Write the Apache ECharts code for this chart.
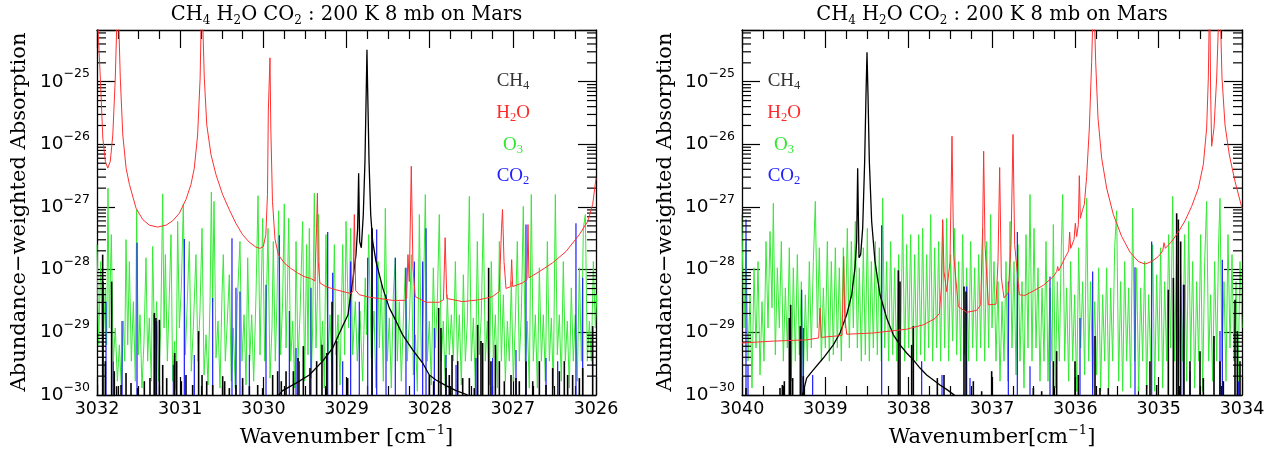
<!DOCTYPE html>
<html><head><meta charset="utf-8">
<script src="https://cdn.jsdelivr.net/npm/echarts@6/dist/echarts.min.js"></script>
<style>html,body{margin:0;padding:0;background:#fff}#c{width:1274px;height:455px}</style>
</head><body><div id="c"></div>
<script>
// ---------------- DATA (wavenumber [cm^-1], log10 of abundance-weighted absorption) ----------------
const leftRange = [3026, 3032];
const rightRange = [3034, 3040];
const yLogRange = [-30, -24.175];          // log10 of 1e-30 .. 6.7e-25
const yTickExponents = [-30, -29, -28, -27, -26, -25];

const h2oLeft = [[3032.00,-23.8],[3031.96,-24.94],[3031.93,-25.90],[3031.90,-26.27],[3031.87,-26.38],[3031.84,-26.27],[3031.81,-25.85],[3031.78,-24.94],[3031.75,-23.5],[3031.72,-24.94],[3031.69,-25.85],[3031.65,-26.38],[3031.61,-26.64],[3031.53,-27.02],[3031.45,-27.20],[3031.37,-27.29],[3031.27,-27.32],[3031.17,-27.29],[3031.09,-27.22],[3031.01,-27.10],[3030.93,-26.88],[3030.87,-26.64],[3030.83,-26.38],[3030.79,-25.85],[3030.76,-24.94],[3030.74,-23.5],[3030.71,-24.94],[3030.68,-25.69],[3030.63,-26.16],[3030.57,-26.48],[3030.49,-26.80],[3030.41,-27.04],[3030.33,-27.26],[3030.25,-27.44],[3030.17,-27.56],[3030.09,-27.64],[3030.04,-27.66],[3030.00,-27.63],[3029.97,-27.44],[3029.95,-26.80],[3029.94,-25.47],[3029.92,-24.62],[3029.91,-25.74],[3029.89,-26.91],[3029.86,-27.51],[3029.82,-27.76],[3029.75,-27.89],[3029.67,-27.98],[3029.59,-28.05],[3029.51,-28.11],[3029.43,-28.14],[3029.38,-28.18],[3029.36,-27.34],[3029.35,-26.78],[3029.34,-27.87],[3029.32,-28.21],[3029.25,-28.27],[3029.13,-28.32],[3029.01,-28.36],[3028.946,-28.38],[3028.922,-28.34],[3028.906,-27.12],[3028.89,-28.33],[3028.846,-28.40],[3028.725,-28.44],[3028.605,-28.46],[3028.445,-28.49],[3028.293,-28.49],[3028.277,-28.45],[3028.261,-27.76],[3028.245,-28.19],[3028.221,-26.35],[3028.201,-27.97],[3028.173,-28.43],[3028.046,-28.52],[3027.886,-28.52],[3027.834,-28.48],[3027.814,-27.49],[3027.794,-28.46],[3027.605,-28.51],[3027.405,-28.48],[3027.244,-28.43],[3027.164,-28.35],[3027.136,-27.34],[3027.124,-27.04],[3027.106,-27.87],[3027.082,-28.30],[3027.026,-28.27],[3027.014,-27.84],[3027.002,-28.27],[3026.882,-28.21],[3026.830,-28.16],[3026.818,-27.28],[3026.806,-28.13],[3026.681,-28.03],[3026.521,-27.89],[3026.361,-27.71],[3026.200,-27.44],[3026.100,-27.23],[3026.040,-26.96],[3026.000,-26.54]];

const ch4WingLeft = [[3029.848,-30.05],[3029.768,-29.93],[3029.607,-29.81],[3029.447,-29.68],[3029.287,-29.46],[3029.166,-29.25],[3029.046,-28.90],[3028.982,-28.72],[3028.966,-28.56],[3028.926,-28.19],[3028.886,-27.76],[3028.866,-27.34],[3028.854,-26.46],[3028.842,-27.55],[3028.822,-27.65],[3028.798,-27.12],[3028.778,-26.27],[3028.762,-25.10],[3028.754,-24.49],[3028.746,-25.10],[3028.729,-26.27],[3028.709,-27.12],[3028.685,-27.55],[3028.645,-27.87],[3028.565,-28.29],[3028.485,-28.61],[3028.405,-28.82],[3028.325,-29.04],[3028.204,-29.28],[3028.084,-29.49],[3028.004,-29.68],[3027.924,-29.76],[3027.804,-29.85],[3027.683,-29.93],[3027.563,-29.99],[3027.483,-30.05]];

const ch4LinesLeft = [[3031.996,-29.84],[3031.932,-27.76],[3031.900,-29.46],[3031.824,-28.19],[3031.792,-29.62],[3031.764,-29.86],[3031.711,-29.84],[3031.651,-29.65],[3031.591,-29.81],[3031.511,-29.89],[3031.431,-29.78],[3031.363,-29.73],[3031.311,-28.69],[3031.291,-28.77],[3031.250,-28.80],[3031.210,-29.52],[3031.162,-29.73],[3031.066,-29.33],[3031.042,-29.46],[3030.986,-29.78],[3030.930,-29.68],[3030.850,-29.84],[3030.778,-28.98],[3030.737,-29.68],[3030.681,-29.78],[3030.609,-29.84],[3030.489,-29.70],[3030.465,-29.78],[3030.409,-29.89],[3030.329,-29.84],[3030.249,-29.73],[3030.168,-29.86],[3030.068,-29.84],[3030.008,-29.89],[3029.888,-29.68],[3029.828,-29.62],[3029.784,-29.78],[3029.727,-29.62],[3029.639,-29.62],[3029.583,-29.41],[3029.519,-29.22],[3029.439,-29.57],[3029.359,-29.46],[3029.295,-29.20],[3029.238,-29.33],[3029.174,-28.51],[3029.118,-29.14],[3028.986,-29.73],[3028.693,-27.34],[3028.004,-29.68],[3027.952,-29.78],[3027.892,-28.61],[3027.864,-28.93],[3027.804,-29.57],[3027.764,-29.68],[3027.731,-29.36],[3027.663,-29.46],[3027.603,-29.73],[3027.523,-29.73],[3027.463,-29.89],[3027.423,-28.88],[3027.383,-29.14],[3027.363,-29.17],[3027.291,-27.97],[3027.263,-29.46],[3027.210,-29.20],[3027.162,-29.46],[3027.102,-29.78],[3027.022,-29.68],[3026.962,-29.73],[3026.922,-29.78],[3026.842,-29.46],[3026.761,-29.78],[3026.681,-29.46],[3026.601,-29.84],[3026.521,-29.57],[3026.441,-29.62],[3026.381,-29.46],[3026.341,-29.68],[3026.281,-29.68],[3026.200,-29.73],[3026.160,-29.57],[3026.040,-28.90]];

const co2LinesLeft = [[3031.924,-28.19],[3031.892,-28.51],[3031.804,-29.46],[3031.699,-28.82],[3031.519,-27.57],[3031.311,-28.72],[3031.283,-28.82],[3031.082,-29.52],[3030.950,-27.51],[3030.830,-29.36],[3030.609,-28.45],[3030.377,-27.50],[3030.329,-28.29],[3030.281,-28.35],[3030.168,-29.36],[3029.968,-28.24],[3029.808,-27.45],[3029.687,-28.66],[3029.607,-29.25],[3029.567,-29.46],[3029.427,-28.29],[3029.226,-27.40],[3029.166,-28.05],[3029.046,-29.46],[3028.950,-27.87],[3028.846,-28.51],[3028.745,-27.81],[3028.693,-27.39],[3028.637,-27.36],[3028.525,-28.40],[3028.413,-27.81],[3028.285,-27.97],[3028.184,-27.87],[3028.084,-27.87],[3028.044,-27.34],[3027.944,-28.93],[3027.804,-29.36],[3027.683,-29.52],[3027.443,-29.41],[3027.243,-29.41],[3026.962,-29.28],[3026.842,-27.28],[3026.601,-29.41],[3026.461,-29.46],[3026.241,-27.26],[3026.160,-28.13]];

const o3Left = [[3032.00,-27.60],[3031.980,-29.20],[3031.956,-27.87],[3031.932,-29.46],[3031.900,-28.29],[3031.884,-29.20],[3031.868,-26.70],[3031.852,-28.93],[3031.828,-27.44],[3031.804,-29.46],[3031.780,-28.93],[3031.755,-29.78],[3031.731,-29.20],[3031.707,-29.89],[3031.683,-28.82],[3031.667,-29.46],[3031.651,-27.52],[3031.631,-29.20],[3031.611,-27.87],[3031.587,-29.46],[3031.563,-28.51],[3031.539,-29.78],[3031.523,-27.04],[3031.503,-29.36],[3031.483,-28.72],[3031.459,-29.89],[3031.435,-29.14],[3031.411,-27.81],[3031.391,-29.46],[3031.371,-28.77],[3031.347,-29.78],[3031.331,-27.63],[3031.307,-29.25],[3031.283,-28.51],[3031.259,-29.78],[3031.234,-28.93],[3031.210,-26.79],[3031.194,-28.93],[3031.178,-27.76],[3031.154,-29.46],[3031.130,-28.40],[3031.110,-27.44],[3031.090,-29.78],[3031.066,-29.14],[3031.050,-29.91],[3031.030,-27.23],[3031.010,-28.93],[3030.986,-28.29],[3030.962,-26.95],[3030.938,-29.36],[3030.914,-28.51],[3030.890,-27.55],[3030.866,-29.62],[3030.842,-28.93],[3030.810,-27.76],[3030.786,-29.46],[3030.762,-28.66],[3030.737,-27.34],[3030.713,-29.68],[3030.689,-29.04],[3030.665,-29.84],[3030.641,-28.51],[3030.625,-26.76],[3030.609,-28.51],[3030.593,-26.91],[3030.569,-29.41],[3030.545,-28.82],[3030.521,-29.89],[3030.497,-28.40],[3030.481,-27.76],[3030.457,-29.46],[3030.433,-28.82],[3030.409,-28.08],[3030.385,-29.78],[3030.361,-28.93],[3030.337,-29.89],[3030.313,-28.51],[3030.281,-27.55],[3030.257,-29.46],[3030.232,-28.72],[3030.208,-29.84],[3030.188,-27.81],[3030.164,-29.46],[3030.140,-28.72],[3030.116,-29.78],[3030.088,-28.40],[3030.064,-26.82],[3030.040,-29.36],[3030.008,-27.18],[3029.984,-29.46],[3029.960,-28.29],[3029.944,-27.34],[3029.920,-29.73],[3029.896,-28.93],[3029.880,-27.55],[3029.856,-29.46],[3029.836,-28.51],[3029.816,-27.06],[3029.792,-29.36],[3029.768,-28.51],[3029.748,-26.95],[3029.727,-29.25],[3029.711,-28.40],[3029.695,-27.18],[3029.671,-29.46],[3029.647,-28.82],[3029.623,-29.89],[3029.607,-27.55],[3029.583,-29.46],[3029.559,-28.72],[3029.527,-27.23],[3029.503,-29.78],[3029.479,-27.60],[3029.463,-29.36],[3029.447,-27.34],[3029.423,-29.73],[3029.407,-28.93],[3029.387,-26.78],[3029.367,-29.25],[3029.351,-28.51],[3029.335,-27.12],[3029.311,-29.46],[3029.287,-28.82],[3029.267,-29.89],[3029.247,-27.44],[3029.222,-29.36],[3029.198,-28.72],[3029.174,-29.78],[3029.146,-27.60],[3029.126,-29.36],[3029.102,-28.72],[3029.078,-29.84],[3029.046,-27.60],[3029.022,-29.36],[3029.006,-27.23],[3028.974,-28.93],[3028.950,-27.34],[3028.926,-29.36],[3028.894,-28.51],[3028.870,-29.46],[3028.838,-28.66],[3028.806,-29.78],[3028.774,-28.13],[3028.758,-29.04],[3028.733,-27.44],[3028.701,-29.41],[3028.669,-28.66],[3028.645,-29.89],[3028.621,-27.87],[3028.605,-29.25],[3028.581,-28.19],[3028.557,-29.78],[3028.533,-27.02],[3028.509,-29.46],[3028.485,-28.77],[3028.461,-29.89],[3028.437,-28.40],[3028.413,-27.81],[3028.389,-29.46],[3028.365,-28.51],[3028.341,-29.78],[3028.317,-28.82],[3028.293,-27.97],[3028.269,-29.46],[3028.245,-28.82],[3028.220,-27.76],[3028.196,-29.68],[3028.172,-29.04],[3028.148,-29.94],[3028.124,-27.12],[3028.100,-29.46],[3028.076,-28.51],[3028.052,-26.80],[3028.028,-29.46],[3028.004,-28.82],[3027.980,-29.84],[3027.956,-27.97],[3027.932,-29.25],[3027.908,-28.51],[3027.884,-27.12],[3027.860,-29.46],[3027.836,-28.82],[3027.812,-29.89],[3027.788,-28.40],[3027.764,-29.36],[3027.739,-28.72],[3027.715,-29.46],[3027.691,-27.87],[3027.667,-29.46],[3027.643,-28.72],[3027.619,-29.84],[3027.595,-28.08],[3027.571,-29.46],[3027.547,-28.82],[3027.523,-26.83],[3027.499,-29.46],[3027.475,-28.77],[3027.451,-29.89],[3027.427,-27.55],[3027.403,-29.36],[3027.379,-28.72],[3027.355,-27.10],[3027.331,-29.46],[3027.307,-28.82],[3027.283,-29.84],[3027.259,-27.87],[3027.235,-29.41],[3027.210,-28.72],[3027.186,-29.89],[3027.162,-27.55],[3027.138,-29.46],[3027.114,-28.40],[3027.090,-29.78],[3027.066,-28.82],[3027.042,-29.46],[3027.018,-28.19],[3026.994,-29.78],[3026.970,-28.82],[3026.946,-27.55],[3026.922,-29.46],[3026.898,-28.72],[3026.874,-26.99],[3026.850,-29.46],[3026.826,-28.82],[3026.802,-29.89],[3026.778,-26.80],[3026.754,-29.46],[3026.729,-28.72],[3026.705,-29.89],[3026.681,-27.97],[3026.657,-29.46],[3026.633,-28.72],[3026.609,-29.78],[3026.585,-27.55],[3026.561,-29.46],[3026.537,-28.77],[3026.513,-29.89],[3026.489,-26.80],[3026.465,-29.36],[3026.441,-28.72],[3026.417,-29.78],[3026.393,-27.87],[3026.369,-29.46],[3026.345,-28.82],[3026.321,-29.89],[3026.297,-28.29],[3026.273,-29.46],[3026.249,-28.72],[3026.225,-29.78],[3026.200,-27.97],[3026.176,-29.46],[3026.152,-27.34],[3026.128,-27.12],[3026.104,-29.46],[3026.080,-28.82],[3026.056,-29.46],[3026.032,-27.87],[3026.008,-28.93],[3025.992,-28.40]];

const h2oRight = [[3040.0,-29.17],[3039.624,-29.14],[3039.224,-29.12],[3039.08,-29.09],[3039.064,-28.61],[3039.048,-29.08],[3038.80,-29.05],[3038.788,-28.40],[3038.78,-27.79],[3038.768,-28.72],[3038.744,-29.03],[3038.424,-29.01],[3038.024,-28.95],[3037.824,-28.88],[3037.684,-28.78],[3037.632,-28.70],[3037.608,-28.29],[3037.592,-27.20],[3037.576,-28.03],[3037.544,-28.35],[3037.504,-27.87],[3037.48,-25.87],[3037.46,-27.76],[3037.404,-28.59],[3037.304,-28.68],[3037.184,-28.65],[3037.136,-28.56],[3037.112,-27.34],[3037.10,-26.11],[3037.084,-27.60],[3037.044,-28.56],[3037.024,-28.59],[3036.952,-28.55],[3036.928,-27.87],[3036.908,-26.37],[3036.888,-28.13],[3036.856,-28.45],[3036.804,-28.37],[3036.772,-27.60],[3036.748,-25.84],[3036.728,-27.60],[3036.672,-28.40],[3036.604,-28.41],[3036.504,-28.34],[3036.384,-28.25],[3036.264,-28.11],[3036.224,-28.03],[3036.212,-27.95],[3036.20,-28.02],[3036.124,-27.81],[3036.08,-27.70],[3036.068,-27.40],[3036.056,-27.66],[3036.016,-27.52],[3036.00,-27.26],[3035.984,-27.47],[3035.964,-27.28],[3035.952,-26.50],[3035.94,-27.18],[3035.912,-27.04],[3035.892,-26.96],[3035.864,-26.51],[3035.832,-25.74],[3035.804,-24.68],[3035.78,-23.5],[3035.756,-24.68],[3035.728,-25.58],[3035.684,-26.22],[3035.624,-26.70],[3035.544,-27.12],[3035.444,-27.47],[3035.344,-27.72],[3035.244,-27.87],[3035.164,-27.91],[3035.084,-27.87],[3035.004,-27.79],[3034.952,-27.70],[3034.936,-27.57],[3034.92,-27.66],[3034.844,-27.55],[3034.764,-27.40],[3034.684,-27.22],[3034.604,-26.99],[3034.524,-26.70],[3034.464,-26.32],[3034.424,-25.74],[3034.404,-24.94],[3034.388,-23.5],[3034.376,-25.21],[3034.364,-26.03],[3034.336,-25.74],[3034.304,-24.94],[3034.268,-23.5],[3034.24,-24.94],[3034.204,-25.69],[3034.152,-26.17],[3034.084,-26.59],[3034.0,-27.02]];

const ch4WingRight = [[3039.284,-30.05],[3039.224,-29.73],[3039.144,-29.60],[3039.024,-29.41],[3038.904,-29.20],[3038.824,-29.01],[3038.744,-28.72],[3038.684,-28.40],[3038.644,-27.97],[3038.624,-27.55],[3038.612,-26.38],[3038.596,-27.81],[3038.576,-27.76],[3038.552,-27.34],[3038.528,-26.27],[3038.512,-25.21],[3038.500,-24.53],[3038.488,-25.21],[3038.472,-26.27],[3038.444,-27.23],[3038.404,-27.87],[3038.344,-28.40],[3038.264,-28.77],[3038.184,-29.04],[3038.104,-29.20],[3038.024,-29.33],[3037.944,-29.44],[3037.864,-29.57],[3037.784,-29.68],[3037.704,-29.76],[3037.624,-29.84],[3037.544,-29.91],[3037.464,-29.99],[3037.404,-30.05]];

const ch4LinesRight = [[3039.952,-29.89],[3039.544,-29.89],[3039.516,-29.84],[3039.492,-29.78],[3039.432,-28.77],[3039.416,-28.56],[3039.392,-29.73],[3039.300,-28.90],[3039.264,-29.70],[3038.124,-28.01],[3038.104,-28.19],[3037.964,-29.20],[3037.944,-28.90],[3037.656,-29.73],[3037.576,-29.68],[3037.336,-28.27],[3037.312,-28.35],[3037.224,-29.78],[3037.124,-29.94],[3037.004,-29.62],[3036.504,-29.89],[3036.404,-29.94],[3036.264,-29.46],[3036.224,-29.30],[3036.004,-29.46],[3035.964,-29.68],[3035.764,-29.06],[3035.704,-29.89],[3035.604,-29.89],[3035.144,-29.84],[3035.104,-29.46],[3035.024,-29.84],[3034.884,-28.32],[3034.824,-28.13],[3034.784,-27.10],[3034.764,-27.20],[3034.736,-27.55],[3034.696,-28.24],[3034.624,-29.46],[3034.504,-29.30],[3034.464,-29.73],[3034.336,-29.06],[3034.264,-29.46],[3034.224,-29.78],[3034.084,-28.48],[3034.056,-28.98],[3034.024,-29.46]];

const co2LinesRight = [[3039.952,-27.20],[3039.928,-29.52],[3039.284,-28.32],[3039.264,-28.93],[3039.152,-29.68],[3038.324,-27.29],[3037.844,-29.46],[3037.600,-29.68],[3037.304,-28.27],[3037.264,-29.73],[3036.804,-28.19],[3036.696,-27.40],[3036.544,-29.54],[3036.304,-28.11],[3035.944,-28.77],[3035.792,-28.03],[3035.284,-27.96],[3035.084,-27.55],[3034.764,-27.90],[3034.704,-28.24],[3034.624,-29.62],[3034.264,-28.98],[3034.236,-27.84],[3034.040,-29.78]];

const o3Right = [[3040.004,-27.12],[3039.976,-28.93],[3039.952,-27.55],[3039.928,-29.46],[3039.904,-28.40],[3039.880,-29.89],[3039.856,-27.97],[3039.832,-29.25],[3039.808,-27.87],[3039.784,-29.68],[3039.760,-28.51],[3039.736,-29.46],[3039.712,-27.55],[3039.688,-28.93],[3039.664,-27.39],[3039.640,-28.61],[3039.624,-26.94],[3039.600,-29.36],[3039.576,-27.97],[3039.552,-28.93],[3039.528,-27.55],[3039.504,-29.46],[3039.480,-28.29],[3039.456,-29.25],[3039.432,-27.65],[3039.408,-29.78],[3039.384,-27.97],[3039.360,-29.46],[3039.336,-27.76],[3039.312,-29.36],[3039.288,-28.19],[3039.264,-29.78],[3039.240,-28.40],[3039.216,-29.46],[3039.192,-27.87],[3039.168,-29.25],[3039.144,-27.87],[3039.120,-26.91],[3039.096,-28.93],[3039.072,-27.65],[3039.048,-29.46],[3039.024,-28.29],[3039.000,-29.25],[3038.976,-27.55],[3038.952,-29.46],[3038.928,-27.87],[3038.904,-29.36],[3038.880,-27.65],[3038.856,-29.25],[3038.832,-27.97],[3038.808,-29.46],[3038.784,-27.65],[3038.760,-28.93],[3038.736,-27.34],[3038.712,-29.25],[3038.688,-27.55],[3038.664,-28.93],[3038.640,-27.23],[3038.616,-29.25],[3038.592,-27.97],[3038.568,-29.46],[3038.544,-27.65],[3038.520,-29.36],[3038.496,-27.34],[3038.472,-29.46],[3038.448,-27.87],[3038.424,-29.25],[3038.400,-27.55],[3038.376,-29.36],[3038.352,-27.65],[3038.328,-29.46],[3038.312,-26.86],[3038.288,-29.25],[3038.264,-27.87],[3038.240,-29.46],[3038.216,-27.55],[3038.192,-29.36],[3038.168,-27.97],[3038.144,-29.46],[3038.120,-27.76],[3038.096,-29.25],[3038.072,-27.12],[3038.048,-29.46],[3038.024,-27.60],[3038.000,-29.25],[3037.976,-27.44],[3037.952,-29.46],[3037.928,-27.76],[3037.904,-29.46],[3037.880,-27.44],[3037.856,-29.36],[3037.832,-27.34],[3037.808,-29.46],[3037.784,-27.76],[3037.760,-29.25],[3037.736,-27.12],[3037.712,-29.46],[3037.688,-27.65],[3037.664,-29.25],[3037.640,-27.55],[3037.616,-29.46],[3037.592,-27.23],[3037.568,-29.25],[3037.544,-27.18],[3037.520,-29.46],[3037.496,-27.76],[3037.472,-29.14],[3037.448,-27.34],[3037.424,-29.36],[3037.400,-27.87],[3037.376,-29.46],[3037.352,-27.44],[3037.328,-29.36],[3037.304,-27.97],[3037.280,-29.46],[3037.256,-27.55],[3037.232,-29.25],[3037.208,-27.97],[3037.184,-29.46],[3037.160,-27.76],[3037.136,-29.25],[3037.112,-27.34],[3037.088,-29.46],[3037.064,-27.55],[3037.040,-29.25],[3037.016,-27.12],[3037.000,-28.93],[3036.976,-27.87],[3036.952,-29.46],[3036.928,-28.19],[3036.904,-29.78],[3036.880,-28.51],[3036.856,-29.46],[3036.832,-27.87],[3036.808,-29.78],[3036.784,-27.23],[3036.760,-29.25],[3036.736,-27.87],[3036.712,-29.68],[3036.688,-27.60],[3036.664,-29.46],[3036.640,-28.19],[3036.616,-29.89],[3036.592,-27.44],[3036.568,-29.25],[3036.544,-26.80],[3036.520,-29.46],[3036.496,-27.34],[3036.472,-29.25],[3036.448,-27.97],[3036.424,-29.78],[3036.400,-28.29],[3036.376,-29.46],[3036.352,-27.55],[3036.328,-29.78],[3036.304,-28.29],[3036.280,-29.46],[3036.264,-27.28],[3036.240,-29.89],[3036.216,-28.19],[3036.192,-29.46],[3036.168,-27.65],[3036.152,-26.80],[3036.128,-29.46],[3036.104,-28.29],[3036.080,-29.78],[3036.056,-27.87],[3036.032,-29.46],[3036.008,-28.40],[3035.984,-29.94],[3035.960,-27.65],[3035.936,-29.25],[3035.912,-28.19],[3035.888,-29.68],[3035.864,-26.86],[3035.840,-29.46],[3035.816,-28.19],[3035.792,-29.89],[3035.768,-28.51],[3035.744,-29.68],[3035.720,-27.97],[3035.696,-29.94],[3035.672,-28.40],[3035.648,-29.46],[3035.624,-27.97],[3035.600,-29.89],[3035.576,-28.29],[3035.552,-29.46],[3035.528,-27.65],[3035.504,-27.06],[3035.480,-29.78],[3035.456,-28.19],[3035.432,-29.94],[3035.408,-27.87],[3035.384,-29.46],[3035.360,-28.29],[3035.336,-29.89],[3035.312,-27.02],[3035.288,-29.46],[3035.264,-27.97],[3035.240,-29.94],[3035.216,-28.29],[3035.192,-29.46],[3035.168,-27.87],[3035.144,-29.89],[3035.120,-28.40],[3035.096,-29.46],[3035.072,-27.60],[3035.048,-29.94],[3035.024,-28.08],[3035.000,-29.46],[3034.976,-27.65],[3034.952,-29.89],[3034.928,-28.19],[3034.904,-29.46],[3034.880,-27.44],[3034.856,-29.25],[3034.832,-26.83],[3034.808,-29.46],[3034.784,-27.55],[3034.760,-29.78],[3034.736,-28.08],[3034.712,-29.46],[3034.688,-27.44],[3034.664,-29.78],[3034.640,-27.23],[3034.616,-29.46],[3034.592,-27.87],[3034.568,-29.89],[3034.544,-28.19],[3034.520,-29.46],[3034.496,-27.44],[3034.472,-29.94],[3034.448,-27.87],[3034.424,-26.91],[3034.400,-29.46],[3034.376,-28.40],[3034.352,-29.78],[3034.328,-27.87],[3034.304,-29.46],[3034.280,-27.55],[3034.264,-26.86],[3034.240,-29.46],[3034.216,-28.19],[3034.192,-29.78],[3034.168,-27.44],[3034.144,-29.25],[3034.120,-27.76],[3034.096,-29.46],[3034.072,-28.19],[3034.048,-29.78],[3034.024,-27.87],[3034.000,-28.93]];

// ---------------- BUILD (y axis is linear in log10 of the value; labels show 10^n) ----------------
const FRAME = '#000';
const LBL_FONT = 'DejaVu Sans';
const NAME_FONT = 'DejaVu Serif';

function yLabelFormatter(v) {
  const r = Math.round(v);
  if (Math.abs(v - r) > 1e-6 || yTickExponents.indexOf(r) < 0) return '';
  return '{a|10}{b|' + (r < 0 ? '\u2212' : '') + Math.abs(r) + '}';
}
const yRich = {
  a: {fontFamily: LBL_FONT, fontSize: 18.5, lineHeight: 28, color: '#000'},
  b: {fontFamily: LBL_FONT, fontSize: 12.5, lineHeight: 13, verticalAlign: 'top', color: '#000'}
};

function xAxes(grid, range, pos, labels) {
  return {
    gridIndex: grid, type: 'value', min: range[0], max: range[1], interval: 1, inverse: true, position: pos,
    axisLine: {show: true, onZero: false, lineStyle: {color: FRAME, width: 1.3}},
    axisTick: {show: true, inside: true, length: 18, lineStyle: {color: FRAME, width: 1.2}},
    minorTick: {show: true, splitNumber: 4, length: 9, lineStyle: {color: FRAME, width: 1.2}},
    axisLabel: {show: labels, fontFamily: LBL_FONT, fontSize: 17.5, color: '#000', margin: 5,
      formatter: v => String(Math.round(v))},
    splitLine: {show: false}, minorSplitLine: {show: false}
  };
}
function yAxes(grid, pos, labels) {
  return {
    gridIndex: grid, type: 'value', min: yLogRange[0], max: yLogRange[1], interval: 1, position: pos,
    axisLine: {show: true, onZero: false, lineStyle: {color: FRAME, width: 1.3}},
    axisTick: {show: true, inside: true, length: 18, lineStyle: {color: FRAME, width: 1.2}},
    axisLabel: {show: labels, formatter: yLabelFormatter, rich: yRich, margin: 7},
    splitLine: {show: false}
  };
}

// minor log ticks at log10(m * 10^n), m = 2..9
const minorTickVals = [];
yTickExponents.forEach(e => { for (let m = 2; m <= 9; m++) { const v = e + Math.log10(m); if (v < yLogRange[1]) minorTickVals.push(v); } });

function minorTickSeries(xi, yi, xAnchor) {
  return {
    type: 'custom', xAxisIndex: xi, yAxisIndex: yi, silent: true, z: 5,
    data: minorTickVals.map(v => [xAnchor, v]),
    renderItem: (params, api) => {
      const cs = params.coordSys;
      const y = api.coord([api.value(0), api.value(1)])[1];
      const st = {stroke: FRAME, lineWidth: 1.2};
      return {type: 'group', children: [
        {type: 'line', shape: {x1: cs.x, y1: y, x2: cs.x + 9, y2: y}, style: st},
        {type: 'line', shape: {x1: cs.x + cs.width - 9, y1: y, x2: cs.x + cs.width, y2: y}, style: st}
      ]};
    }
  };
}
function stickSeries(xi, yi, data, color, width, z) {
  return {
    type: 'custom', xAxisIndex: xi, yAxisIndex: yi, silent: true, z: z, clip: true,
    data: data,
    renderItem: (params, api) => {
      const cs = params.coordSys;
      const p = api.coord([api.value(0), api.value(1)]);
      return {type: 'line', shape: {x1: p[0], y1: cs.y + cs.height, x2: p[0], y2: Math.max(p[1], cs.y)}, style: {stroke: color, lineWidth: width}};
    }
  };
}
function lineSeries(xi, yi, data, color, width, z) {
  return {type: 'line', xAxisIndex: xi, yAxisIndex: yi, data: data, showSymbol: false, symbol: 'none',
    clip: true, silent: true, z: z, lineStyle: {color: color, width: width}};
}

const C_O3 = '#36ea36', C_CO2 = '#1a1aff', C_CH4 = '#000000', C_H2O = '#ff3030';

const series = [];
[[0, 0, o3Left, co2LinesLeft, ch4LinesLeft, ch4WingLeft, h2oLeft, 3029],
 [2, 2, o3Right, co2LinesRight, ch4LinesRight, ch4WingRight, h2oRight, 3037]].forEach(s => {
  const [xi, yi, o3, co2, ch4L, ch4W, h2o, anchor] = s;
  series.push(lineSeries(xi, yi, o3, C_O3, 1, 2));
  series.push(stickSeries(xi, yi, co2, C_CO2, 1.2, 3));
  series.push(stickSeries(xi, yi, ch4L, C_CH4, 1.6, 4));
  series.push(lineSeries(xi, yi, ch4W, C_CH4, 1.3, 4));
  series.push(lineSeries(xi, yi, h2o, C_H2O, 1, 5));
  series.push(minorTickSeries(xi, yi, anchor));
});

// ---------------- TEXT ----------------
function rt(x, y, text, rich, rot) {
  return {type: 'text', x: x, y: y, rotation: rot || 0, silent: true, z: 100,
    style: {text: text, rich: rich, align: 'center', verticalAlign: 'middle'}};
}
const titleRich = {
  t: {fontFamily: NAME_FONT, fontSize: 19.5, lineHeight: 24, fill: '#000'},
  s: {fontFamily: NAME_FONT, fontSize: 12, lineHeight: 10, verticalAlign: 'bottom', fill: '#000'}
};
const titleText = '{t|CH}{s|4}{t| H}{s|2}{t|O CO}{s|2}{t| : 200 K 8 mb on Mars}';
const nameRich = {
  t: {fontFamily: NAME_FONT, fontSize: 21, lineHeight: 28, fill: '#000'},
  p: {fontFamily: NAME_FONT, fontSize: 13, lineHeight: 13, verticalAlign: 'top', fill: '#000'}
};
function legendRich(color) {
  return {
    m: {fontFamily: 'Liberation Serif', fontSize: 19, lineHeight: 22, fill: color},
    s: {fontFamily: 'Liberation Serif', fontSize: 12.5, lineHeight: 9, verticalAlign: 'bottom', fill: color}
  };
}
const legendItems = [['{m|CH}{s|4}', '#333333', 81], ['{m|H}{s|2}{m|O}', '#ff2a2a', 113], ['{m|O}{s|3}', '#2ee82e', 145], ['{m|CO}{s|2}', '#2222ff', 176]];

const graphic = [
  rt(346.5, 15, titleText, titleRich),
  rt(992, 15, titleText, titleRich),
  rt(346.5, 438, '{t|Wavenumber [cm}{p|\u22121}{t|]}', nameRich),
  rt(992, 438, '{t|Wavenumber[cm}{p|\u22121}{t|]}', nameRich),
  rt(20, 212, '{t|Abundance\u2212weighted Absorption}', nameRich, Math.PI / 2),
  rt(666, 212, '{t|Abundance\u2212weighted Absorption}', nameRich, Math.PI / 2)
];
legendItems.forEach(it => {
  graphic.push(rt(513, it[2], it[0], legendRich(it[1])));
  graphic.push(rt(784, it[2], it[0], legendRich(it[1])));
});

const chart = echarts.init(document.getElementById('c'), null, {renderer: 'canvas'});
chart.setOption({
  animation: false,
  backgroundColor: '#fff',
  grid: [{left: 97, top: 30, width: 499, height: 365}, {left: 742, top: 30, width: 500, height: 365}],
  xAxis: [xAxes(0, leftRange, 'bottom', true), xAxes(0, leftRange, 'top', false),
          xAxes(1, rightRange, 'bottom', true), xAxes(1, rightRange, 'top', false)],
  yAxis: [yAxes(0, 'left', true), yAxes(0, 'right', false), yAxes(1, 'left', true), yAxes(1, 'right', false)],
  series: series,
  graphic: graphic
});
</script>
</body></html>
